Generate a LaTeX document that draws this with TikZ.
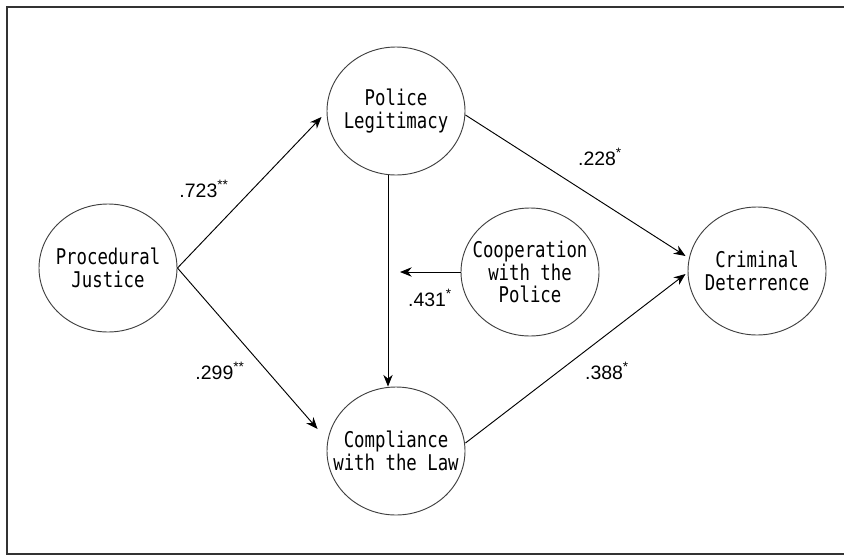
\documentclass[tikz,border=0pt]{standalone}
\usepackage{fontspec}
\setmainfont{Liberation Sans}
\newfontfamily\varfont[FakeStretch=0.8]{DejaVu Sans Mono}
\usetikzlibrary{shapes.geometric,arrows.meta}

\begin{document}
\begin{tikzpicture}[x=0.03cm,y=-0.03cm,>={Stealth[length=10pt,width=8pt]},line width=0.8pt]
\tikzstyle{var}=[draw=black!75,ellipse,minimum width=4.14cm,minimum height=3.84cm,
inner xsep=-0.5cm,inner ysep=-0.3cm,align=center,
font=\varfont\fontsize{18.5}{19.5}\selectfont]
\tikzstyle{coef}=[inner sep=0pt,font=\fontsize{16.6}{18}\selectfont]

\useasboundingbox (0,0) rectangle (844,556);
\draw [line width=1.3pt,black!80] (846,7) -- (7,7) -- (7,554) -- (846,554);

\draw (108,268)  node (pj) [var] {Procedural\\Justice};
\draw (396,111)  node (pl) [var] {Police\\Legitimacy};
\draw (396,451)  node (cl) [var] {Compliance\\with the Law};
\draw (530,272)  node (coop) [var] {Cooperation\\with the\\Police};
\draw (757,271)  node (cd) [var] {Criminal\\Deterrence};

\draw [->] (pj.east) -- ([shift={(-5,6)}]pl.west);
\draw [->] (pj.east) -- ([shift={(-9,-22)}]cl.west);
\draw [->] ([shift={(0,4)}]pl.east) -- ([shift={(-2,-15)}]cd.west);
\draw [->] ([shift={(0,-8)}]cl.east) -- ([shift={(-2,3)}]cd.west);
\draw [->] ([shift={(-8,0)}]pl.south) coordinate (vtop) -- ([shift={(-8,0)}]cl.north);
\draw [->,shorten >=0.36cm] (coop.west) -- (vtop |- coop.west);

\draw (204,189) node (b1) [coef] {.723\textsuperscript{**}};
\draw (220,371) node (b2) [coef] {.299\textsuperscript{**}};
\draw (600,157) node (b3) [coef] {.228\textsuperscript{*}};
\draw (607,371) node (b4) [coef] {.388\textsuperscript{*}};
\draw (430,298) node (b5) [coef] {.431\textsuperscript{*}};
\end{tikzpicture}
\end{document}
